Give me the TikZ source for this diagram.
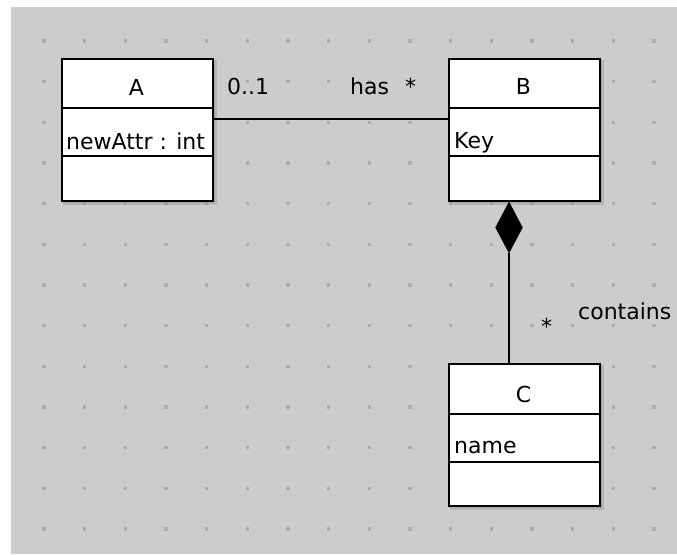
\documentclass[tikz,border=0pt]{standalone}
\usepackage{fontspec}
\setmainfont{DejaVu Sans}
\usetikzlibrary{shapes.geometric}
\definecolor{bggray}{HTML}{CCCCCC}
\definecolor{dotgray}{HTML}{ACACAC}
\definecolor{shadowgray}{HTML}{8A8A8A}
\tikzset{
  umlbox/.style={draw=black, line width=2pt, fill=white, minimum width=151pt, minimum height=142pt, inner sep=0pt, anchor=north west},
  sep/.style={line width=1.5pt},
  lbl/.style={font=\fontsize{22}{26}\selectfont, inner sep=0pt},
  conn/.style={line width=1.5pt},
  compo/.style={diamond, fill=black, draw=black, minimum width=27pt, minimum height=51pt, inner sep=0pt}
}
\begin{document}
\begin{tikzpicture}[x=1pt,y=-1pt]
\useasboundingbox (0,0) rectangle (677,554);
\fill[white] (0,0) rectangle (677,554);
\fill[bggray] (11,7) rectangle (677,554);
% grid dots
\foreach \i in {0,...,15}{
  \foreach \j in {0,...,12}{
    \fill[dotgray] ({44+40.67*\i-1.75},{41+40.67*\j-1.75}) rectangle ++(3.5,3.5);
  }
}
% shadows
\foreach \x/\y in {61/58,448/58,448/363}{
  \fill[shadowgray, opacity=0.35] (\x+2,\y+2) rectangle (\x+151+5,\y+142+5);
  \fill[shadowgray, opacity=0.35] (\x+2,\y+2) rectangle (\x+151+3,\y+142+3);
}
% boxes
\node[umlbox] (A) at (61,58) {};
\node[umlbox] (B) at (448,58) {};
\node[umlbox] (C) at (448,363) {};
\draw[sep] ([yshift=-50pt]A.north west) -- ([yshift=-50pt]A.north east);
\draw[sep] ([yshift=46pt]A.south west) -- ([yshift=46pt]A.south east);
\draw[sep] ([yshift=-50pt]B.north west) -- ([yshift=-50pt]B.north east);
\draw[sep] ([yshift=46pt]B.south west) -- ([yshift=46pt]B.south east);
\draw[sep] ([yshift=-51pt]C.north west) -- ([yshift=-51pt]C.north east);
\draw[sep] ([yshift=45pt]C.south west) -- ([yshift=45pt]C.south east);
% box texts
\node[lbl, anchor=base] (Aname) at (136.5,95) {A};
\node[lbl, anchor=base west] (Aattr) at (66,149) {newAttr : int};
\node[lbl, anchor=base] (Bname) at (523.5,94) {B};
\node[lbl, anchor=base west] (Battr) at (454,148) {Key};
\node[lbl, anchor=base] (Cname) at (523.5,402) {C};
\node[lbl, anchor=base west] (Cattr) at (454,453) {name};
% association A-B
\draw[conn] ([yshift=11pt]A.east) -- ([yshift=11pt]B.west);
\node[lbl, anchor=base west] (m1) at (227,94) {0..1};
\node[lbl, anchor=base west] (has) at (350,94) {has};
\node[lbl, anchor=base west] (m2) at (405,94) {*};
% composition B-C
\node[compo] (D) at (509,227.5) {};
\draw[conn] (D.south) -- (D.south |- C.north);
\node[lbl, anchor=base west] (m3) at (541,334) {*};
\node[lbl, anchor=base west] (contains) at (578,319) {contains};
\end{tikzpicture}
\end{document}
